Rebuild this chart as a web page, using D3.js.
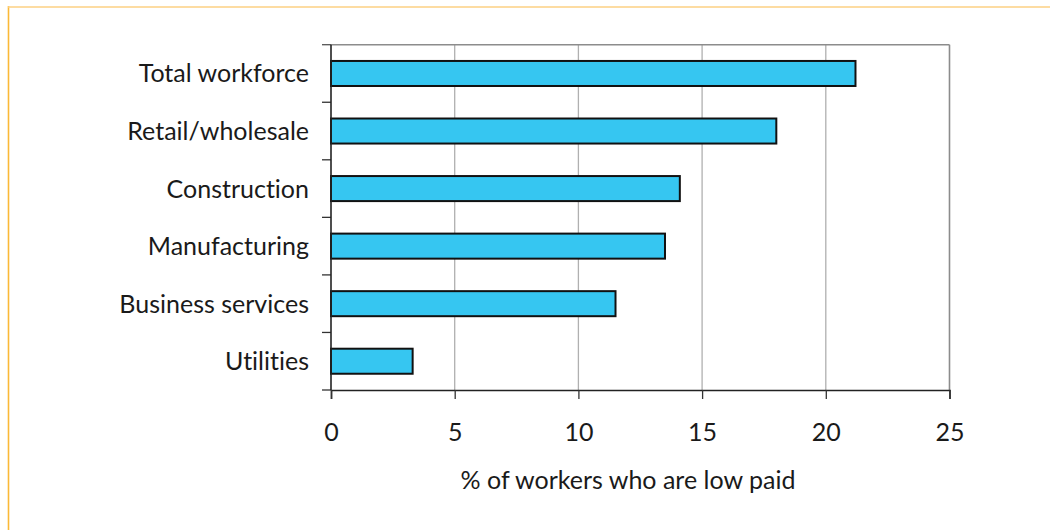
<!DOCTYPE html>
<html><head><meta charset="utf-8">
<script src="https://cdn.jsdelivr.net/npm/d3@7"></script>
<style>
html,body{margin:0;padding:0;background:#fff;}
svg{display:block;}
text{font-family:Lato,"Noto Sans",sans-serif;fill:#1a1a1a;font-weight:400;font-variant-ligatures:none;}
</style></head>
<body>
<script>
const categories = ["Total workforce","Retail/wholesale","Construction","Manufacturing","Business services","Utilities"];
const values = [21.2, 18.0, 14.1, 13.5, 11.5, 3.3];
const xTicks = [0,5,10,15,20,25];
const xTitle = "% of workers who are low paid";

const W = 1050, H = 530;
const mLeft = 331, mRight = 949.5, mTop = 44.7, mBottom = 390;
const fs = "25px";

const svg = d3.select("body").append("svg").attr("width", W).attr("height", H);

// frame lines (left + top, orange)
svg.append("line").attr("x1",8.5).attr("x2",8.5).attr("y1",6).attr("y2",H).attr("stroke","#FBB937").attr("stroke-width",1.6);
svg.append("line").attr("x1",8).attr("x2",W).attr("y1",7).attr("y2",7).attr("stroke","#FCD083").attr("stroke-width",1.6);

const x = d3.scaleLinear().domain([0,25]).range([mLeft,mRight]);
const pi = 0.565;
const y = d3.scaleBand().domain(categories).range([mTop,mBottom]).paddingInner(pi).paddingOuter(pi/2);

// gridlines
svg.append("g").selectAll("line").data(xTicks.filter(d=>d>0 && d<25)).join("line")
  .attr("x1",d=>x(d)).attr("x2",d=>x(d)).attr("y1",mTop).attr("y2",mBottom)
  .attr("stroke","#b0b0b0").attr("stroke-width",1.3);

// top & right border of plot
svg.append("line").attr("x1",mLeft).attr("x2",x(25)).attr("y1",mTop).attr("y2",mTop).attr("stroke","#8c8c8c").attr("stroke-width",1.6);
svg.append("line").attr("x1",x(25)).attr("x2",x(25)).attr("y1",mTop).attr("y2",mBottom).attr("stroke","#8c8c8c").attr("stroke-width",1.6);

// bars
svg.append("g").selectAll("rect").data(categories).join("rect")
  .attr("x", x(0))
  .attr("y", d=>y(d))
  .attr("width", (d,i)=>x(values[i])-x(0))
  .attr("height", y.bandwidth())
  .attr("fill","#36C6F1")
  .attr("stroke","#111")
  .attr("stroke-width",2);

// y axis line and boundary ticks
const step = y.step();
const yTicks = d3.range(categories.length+1).map(i=>mTop + i*step);
svg.append("g").selectAll("line").data(yTicks).join("line")
  .attr("x1",mLeft-9).attr("x2",mLeft).attr("y1",d=>d).attr("y2",d=>d)
  .attr("stroke",(d,i)=> i===0 ? "#555" : "#333").attr("stroke-width",1.3);
svg.append("line").attr("x1",mLeft).attr("x2",mLeft).attr("y1",mTop).attr("y2",mBottom).attr("stroke","#222").attr("stroke-width",1.6);

// category labels
svg.append("g").selectAll("text").data(categories).join("text")
  .attr("x", mLeft-22)
  .attr("y", d=>y(d)+y.bandwidth()/2)
  .attr("dy","0.36em")
  .attr("text-anchor","end")
  .style("font-size",fs)
  .text(d=>d);

// x axis
const xAxis = d3.axisBottom(x).tickValues(xTicks).tickSize(9).tickPadding(24).tickFormat(d3.format("d"));
const gx = svg.append("g").attr("transform",`translate(0,${mBottom})`).call(xAxis);
gx.select(".domain").attr("stroke","#222").attr("stroke-width",1.6);
gx.selectAll(".tick line").attr("stroke","#333").attr("stroke-width",1.3);
gx.selectAll(".tick text").style("font-size",fs).style("font-family","Lato,'Noto Sans',sans-serif").style("font-weight","400").attr("fill","#1a1a1a");

svg.append("text").attr("x", 628).attr("y", 489).attr("text-anchor","middle").style("font-size",fs).text(xTitle);
</script>
</body></html>
